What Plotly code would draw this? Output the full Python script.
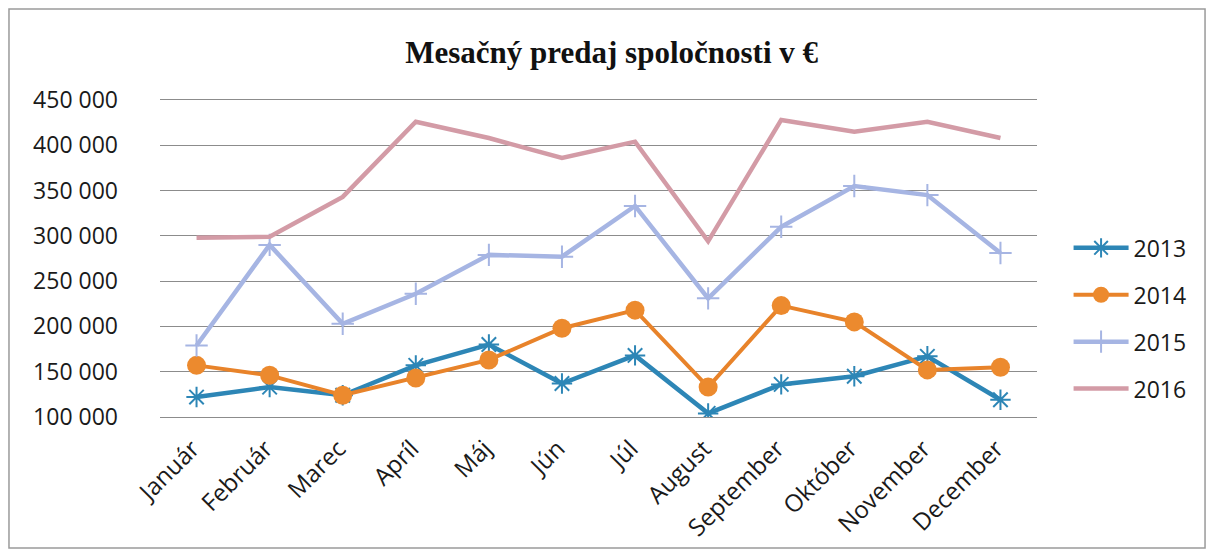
import plotly.graph_objects as go

# months and monthly sales per year
months = ["Január", "Február", "Marec", "Apríl", "Máj", "Jún", "Júl", "August",
          "September", "Október", "November", "December"]
sales_2013 = [122000, 133000, 124000, 157000, 180000, 137000, 168000, 104000, 136000, 145000, 167000, 119000]
sales_2014 = [157000, 146000, 124000, 143000, 163000, 198000, 218000, 133000, 223000, 205000, 152000, 155000]
sales_2015 = [179000, 290000, 203000, 236000, 279000, 277000, 333000, 231000, 310000, 355000, 345000, 281000]
sales_2016 = [298000, 299000, 343000, 426000, 408000, 386000, 404000, 294000, 428000, 415000, 426000, 408000]
y_ticks = [100000, 150000, 200000, 250000, 300000, 350000, 400000, 450000]

fig = go.Figure()
fig.add_trace(go.Scatter(x=months, y=sales_2013, name="2013", mode="lines+markers", legendgroup="a",
                         line=dict(color="#2D86B6", width=4.5),
                         marker=dict(symbol="asterisk-open", size=17, color="#2D86B6", line=dict(width=2, color="#2D86B6"))))
fig.add_trace(go.Scatter(x=months, y=sales_2014, name="2014", mode="lines+markers", legendgroup="b",
                         line=dict(color="#E8832A", width=4),
                         marker=dict(symbol="circle", size=19, color="#EC8A2E")))
fig.add_trace(go.Scatter(x=months, y=sales_2015, name="2015", mode="lines+markers", legendgroup="c",
                         line=dict(color="#A6B5E3", width=4.5),
                         marker=dict(symbol="cross-thin-open", size=16, color="#A6B5E3", line=dict(width=2, color="#A6B5E3"))))
fig.add_trace(go.Scatter(x=months, y=sales_2016, name="2016", mode="lines", legendgroup="d",
                         line=dict(color="#D39BA6", width=4.5)))

# chart frame (around the whole chart)
fig.add_shape(type="rect", xref="paper", yref="paper", x0=-0.1722, x1=1.1916, y0=-0.413, y1=1.287,
              line=dict(color="#9a9a9a", width=1.5))

# page body has 8px margin, so margins are reduced by 8 on left/top
fig.update_layout(
    width=1214, height=553, autosize=False,
    margin=dict(l=152, r=185, t=92, b=144, pad=0),
    paper_bgcolor="white", plot_bgcolor="white",
    separators=", ",
    font=dict(family="Open Sans, Liberation Sans, sans-serif", size=23, color="#1a1a1a"),
    title=dict(text="<b>Mesačný predaj spoločnosti v €</b>", x=0.515, xref="paper", xanchor="center",
               y=0.92, yanchor="middle",
               font=dict(family="Liberation Serif, Times New Roman, serif", size=31, color="#111")),
    legend=dict(x=1.036, y=0.311, xanchor="left", yanchor="middle", tracegroupgap=14, itemwidth=55,
                font=dict(size=23), bgcolor="rgba(0,0,0,0)"),
    showlegend=True,
)
fig.update_xaxes(range=[-0.5, 11.5], showgrid=False, zeroline=False, tickangle=-45, tickfont=dict(size=24),
                 ticks="", showline=True, mirror=True, linecolor="#8c8c8c", linewidth=1.2,
                 ticklabelshift=-4, ticklabelstandoff=7)
fig.update_yaxes(range=[100000, 450000], tickvals=y_ticks, tickformat=",d", showgrid=True,
                 gridcolor="#8c8c8c", gridwidth=1.2, zeroline=False, showline=False, ticks="",
                 ticklabelstandoff=41)

fig.write_html("out.html")
